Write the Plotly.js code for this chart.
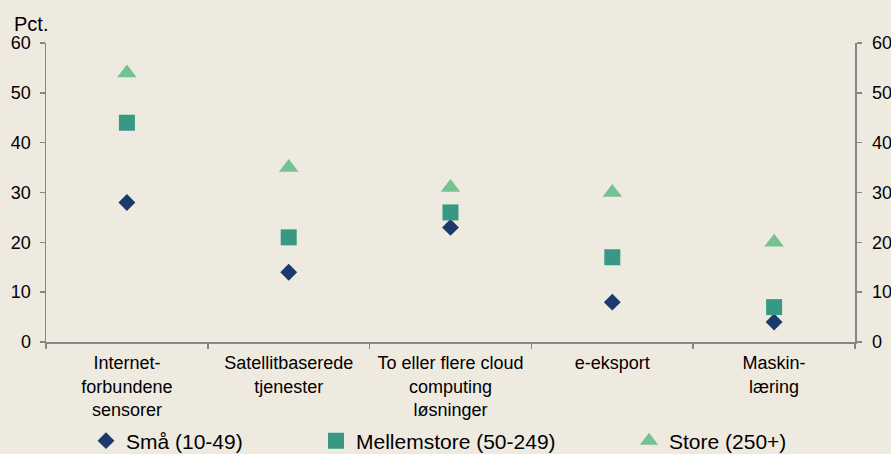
<!DOCTYPE html>
<html><head><meta charset="utf-8">
<script src="https://cdn.plot.ly/plotly-3.0.1.min.js"></script>
<style>html,body{margin:0;padding:0;background:#EFEAE0;}</style>
</head><body>
<div id="chart" style="width:891px;height:454px;"></div>
<script>
const categories = ["Internet-<br>forbundene<br>sensorer", "Satellitbaserede<br>tjenester", "To eller flere cloud<br>computing<br>løsninger", "e-eksport", "Maskin-<br>læring"];
const smaa = [28, 14, 23, 8, 4];
const mellemstore = [44, 21, 26, 17, 7];
const store = [54, 35, 31, 30, 20];
const seriesNames = ["Små (10-49)", "Mellemstore (50-249)", "Store (250+)"];
const yTicks = [0, 10, 20, 30, 40, 50, 60];

const fam = "Arial, 'Liberation Sans', sans-serif";
const font = {family: fam, size: 18, color: "#000"};
const legFont = {family: fam, size: 21, color: "#000"};
const axisCol = "#868686";

const traces = [
  {x: categories, y: smaa, name: seriesNames[0], type: "scatter", mode: "markers",
   marker: {symbol: "diamond", size: 13, color: "#1B3A6B"}, legend: "legend"},
  {x: categories, y: mellemstore, name: seriesNames[1], type: "scatter", mode: "markers",
   marker: {symbol: "square", size: 16, color: "#379884"}, legend: "legend2"},
  {x: categories, y: store, name: seriesNames[2], type: "scatter", mode: "markers", yaxis: "y2",
   marker: {symbol: "triangle-up", size: 17, color: "#74C292"}, legend: "legend3"}
];

const legBase = {orientation: "h", xref: "container", yref: "container", xanchor: "left", yanchor: "middle",
  y: 1 - 441/454, bgcolor: "rgba(0,0,0,0)", font: legFont, itemwidth: 30};

const yBase = {range: [0, 60], tickvals: yTicks, ticks: "outside", ticklen: 5, tickcolor: axisCol, tickwidth: 1.5,
  showline: true, linecolor: axisCol, linewidth: 1.5, showgrid: false, zeroline: false, tickfont: font, fixedrange: true};

const layout = {
  width: 891, height: 454,
  paper_bgcolor: "#EFEAE0", plot_bgcolor: "#EFEAE0",
  margin: {l: 46, r: 36, t: 43, b: 112},
  font: font,
  showlegend: true,
  legend: Object.assign({}, legBase, {x: 86/891}),
  legend2: Object.assign({}, legBase, {x: 316/891}),
  legend3: Object.assign({}, legBase, {x: 629/891}),
  xaxis: {type: "category", tickson: "boundaries", ticks: "outside", ticklen: 5, tickcolor: axisCol,
    tickwidth: 1.5, showline: true, linecolor: axisCol, linewidth: 1.5, showgrid: false, zeroline: false,
    range: [-0.5, 4.5], tickfont: font, fixedrange: true, ticklabelstandoff: 4},
  yaxis: Object.assign({}, yBase, {ticklabelstandoff: 5}),
  yaxis2: Object.assign({}, yBase, {overlaying: "y", side: "right", ticklabelstandoff: 7}),
  annotations: [{text: "Pct.", xref: "paper", yref: "paper", x: (12 - 46)/809, y: 1 + (43 - 24)/299,
    xanchor: "left", yanchor: "middle", showarrow: false, font: {family: fam, size: 20, color: "#000"}}]
};

Plotly.newPlot("chart", traces, layout, {staticPlot: true});
</script>
</body></html>
